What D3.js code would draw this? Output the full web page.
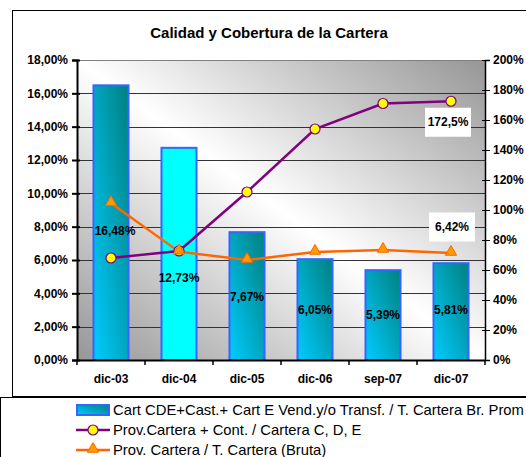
<!DOCTYPE html>
<meta charset="utf-8">
<style>
body { margin: 0; background: #fff; }
text { font-family: "Liberation Sans", Arial, sans-serif; }
.axis text { font-size: 12px; font-weight: bold; fill: #000; }
.axis path, .axis line { stroke: #000; }
</style>
<body>
<div id="chart"></div>
<script src="https://d3js.org/d3.v7.min.js"></script>
<script>
// data
var periods = ["dic-03", "dic-04", "dic-05", "dic-06", "sep-07", "dic-07"];
var carteraCDE = [16.48, 12.73, 7.67, 6.05, 5.39, 5.81];        // bars, left axis
var barLabelAt = [7.74, 4.92, 3.78, 3.0, 2.7, 3.0];             // where the bar labels sit (left axis units)
var provCobertura = [68, 72.7, 112, 154, 171, 172.5];          // purple line, right axis
var provBruta = [9.4, 6.5, 6.0, 6.48, 6.6, 6.42];               // orange line, left axis
var leftTicks = [0, 2, 4, 6, 8, 10, 12, 14, 16, 18];
var rightTicks = [0, 20, 40, 60, 80, 100, 120, 140, 160, 180, 200];
var legendNames = ["Cart CDE+Cast.+ Cart E Vend.y/o Transf. / T. Cartera Br. Prom",
                   "Prov.Cartera + Cont. / Cartera C, D, E",
                   "Prov. Cartera / T. Cartera (Bruta)"];

var W = 526, H = 457;
var margin = {top: 60, left: 77, right: 41, bottom: 97};
var width = W - margin.left - margin.right,
    height = H - margin.top - margin.bottom;

var fmt = function(v, d) { return v.toFixed(d).replace(".", ",") + "%"; };

var svg = d3.select("#chart").append("svg")
    .attr("width", W).attr("height", H);

var defs = svg.append("defs");
var bg = defs.append("linearGradient").attr("id", "bg")
    .attr("x1", 0).attr("y1", 1).attr("x2", 1).attr("y2", 0);
bg.append("stop").attr("offset", 0).attr("stop-color", "#969696");
bg.append("stop").attr("offset", 0.5).attr("stop-color", "#ffffff");
bg.append("stop").attr("offset", 1).attr("stop-color", "#969696");
var barg = defs.append("linearGradient").attr("id", "barg")
    .attr("x1", 0).attr("y1", 1).attr("x2", 1).attr("y2", 0);
barg.append("stop").attr("offset", 0).attr("stop-color", "#00ccff");
barg.append("stop").attr("offset", 1).attr("stop-color", "#008080");

// chart frame
svg.append("rect").attr("x", 12.5).attr("y", 10.5).attr("width", 600).attr("height", 386)
    .attr("fill", "#fff").attr("stroke", "#000");

svg.append("text")
    .attr("x", 269).attr("y", 38)
    .attr("text-anchor", "middle")
    .style("font-size", "15px").style("font-weight", "bold")
    .text("Calidad y Cobertura de la Cartera");

var g = svg.append("g").attr("transform", "translate(" + margin.left + "," + margin.top + ")");

var x = d3.scaleBand().domain(periods).range([0, width]).paddingInner(0.485).paddingOuter(0.2425);
var xb = d3.scaleBand().domain(periods).range([0, width]);
var y = d3.scaleLinear().domain([0, 18]).range([height, 0]);
var y2 = d3.scaleLinear().domain([0, 200]).range([height, 0]);

g.append("rect").attr("width", width).attr("height", height).attr("fill", "url(#bg)");

// gridlines
g.selectAll(".grid").data(leftTicks.slice(1)).enter().append("line")
    .attr("x1", 0).attr("x2", width)
    .attr("y1", function(d) { return Math.round(y(d)) + 0.5; })
    .attr("y2", function(d) { return Math.round(y(d)) + 0.5; })
    .attr("stroke", function(d) { return d === 18 ? "#808080" : "#333"; });

// bars
g.selectAll(".bar").data(carteraCDE).enter().append("rect")
    .attr("x", function(d, i) { return x(periods[i]); })
    .attr("y", function(d) { return y(d); })
    .attr("width", x.bandwidth())
    .attr("height", function(d) { return height - y(d); })
    .attr("fill", function(d, i) { return i === 1 ? "#00ffff" : "url(#barg)"; })
    .attr("stroke", "#3366ff").attr("stroke-width", 2);

// axes
var yl = g.append("g").attr("class", "axis")
    .call(d3.axisLeft(y).tickValues(leftTicks).tickSize(5).tickPadding(4)
        .tickFormat(function(d) { return fmt(d, 2); }));
yl.select(".domain").attr("stroke-width", 2);
yl.selectAll(".tick line").attr("x2", 3).attr("x1", -5).attr("stroke-width", 2);

var yr = g.append("g").attr("class", "axis").attr("transform", "translate(" + width + ",0)")
    .call(d3.axisRight(y2).tickValues(rightTicks).tickSize(5).tickPadding(3)
        .tickFormat(function(d) { return d + "%"; }));
yr.selectAll(".tick line").attr("x1", -3).attr("x2", 5);
yr.select(".domain").attr("stroke-width", 1.5);

var xa = g.append("g").attr("class", "axis").attr("transform", "translate(0," + height + ")")
    .call(d3.axisBottom(xb).tickSize(0).tickPadding(14));
xa.select(".domain").attr("stroke-width", 2);
g.selectAll(".xtick").data(d3.range(periods.length + 1)).enter().append("line")
    .attr("x1", function(i) { return i * xb.step(); })
    .attr("x2", function(i) { return i * xb.step(); })
    .attr("y1", height).attr("y2", height + 5)
    .attr("stroke", "#000").attr("stroke-width", 1.5);

var cx = function(i) { return xb(periods[i]) + xb.bandwidth() / 2; };

// bar labels
g.selectAll(".blab").data(carteraCDE).enter().append("text")
    .attr("x", function(d, i) { return cx(i) + (i === 0 ? 4 : 0); })
    .attr("y", function(d, i) { return y(barLabelAt[i]); })
    .attr("dy", "0.35em").attr("text-anchor", "middle")
    .style("font-size", "12px").style("font-weight", "bold")
    .text(function(d) { return fmt(d, 2); });

// purple line
var line2 = d3.line().x(function(d, i) { return cx(i); }).y(function(d) { return y2(d); });
g.append("path").datum(provCobertura).attr("d", line2)
    .attr("fill", "none").attr("stroke", "#800080").attr("stroke-width", 2.5);

// orange line
var line1 = d3.line().x(function(d, i) { return cx(i); }).y(function(d) { return y(d); });
g.append("path").datum(provBruta).attr("d", line1)
    .attr("fill", "none").attr("stroke", "#ff6600").attr("stroke-width", 2.5);

g.selectAll(".circ").data(provCobertura).enter().append("circle")
    .attr("cx", function(d, i) { return cx(i); })
    .attr("cy", function(d) { return y2(d); })
    .attr("r", 5).attr("fill", "#ffff00").attr("stroke", "#800080").attr("stroke-width", 1.2);

var tri = d3.symbol().type(d3.symbolTriangle).size(55);
g.selectAll(".tri").data(provBruta).enter().append("path")
    .attr("d", tri)
    .attr("transform", function(d, i) { return "translate(" + cx(i) + "," + (y(d) - 1) + ")"; })
    .attr("fill", "#ff9900").attr("stroke", "#ff6600").attr("stroke-width", 1);

// boxed end labels
function boxLabel(xp, yp, txt) {
  var lg = g.append("g");
  lg.append("rect").attr("x", xp - 23).attr("y", yp - 14.5).attr("width", 46).attr("height", 29)
      .attr("fill", "#fff");
  lg.append("text").attr("x", xp).attr("y", yp).attr("dy", "0.35em")
      .attr("text-anchor", "middle")
      .style("font-size", "12px").style("font-weight", "bold").text(txt);
}
var last = periods.length - 1;
boxLabel(cx(last) - 3, y2(provCobertura[last] - 14), fmt(provCobertura[last], 1));
boxLabel(cx(last) + 1, y(provBruta[last] + 1.56), fmt(provBruta[last], 2));

// legend
svg.append("rect").attr("x", 0.5).attr("y", 397.5).attr("width", 600).attr("height", 80)
    .attr("fill", "#fff").attr("stroke", "#000");
var leg = svg.append("g").attr("transform", "translate(76,410)");
legendNames.forEach(function(name, i) {
  var r = leg.append("g").attr("transform", "translate(0," + i * 20 + ")");
  if (i === 0) {
    r.append("rect").attr("x", 1).attr("y", -5).attr("width", 32).attr("height", 10)
        .attr("fill", "url(#barg)").attr("stroke", "#3366ff").attr("stroke-width", 2);
  } else {
    var col = i === 1 ? "#800080" : "#ff6600";
    r.append("line").attr("x1", 0).attr("x2", 34).attr("stroke", col).attr("stroke-width", 2.5);
    if (i === 1) {
      r.append("circle").attr("cx", 17).attr("r", 5).attr("fill", "#ffff00")
          .attr("stroke", "#800080").attr("stroke-width", 1.2);
    } else {
      r.append("path").attr("d", tri).attr("transform", "translate(17,-1)")
          .attr("fill", "#ff9900").attr("stroke", "#ff6600");
    }
  }
  r.append("text").attr("x", 37).attr("dy", "0.35em")
      .style("font-size", "14.8px").text(name);
});
</script>
</body>
